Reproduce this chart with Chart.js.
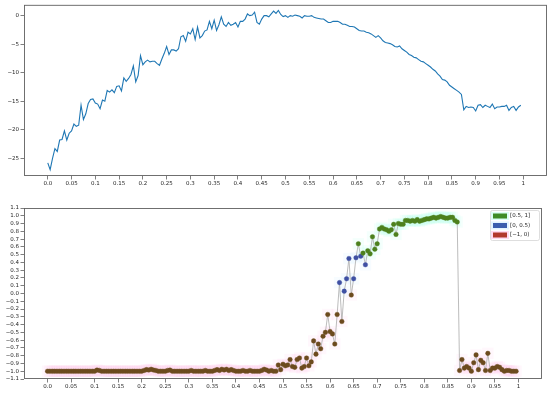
<!DOCTYPE html>
<html>
<head>
<meta charset="utf-8">
<script src="https://cdn.jsdelivr.net/npm/chart.js@4.4.1/dist/chart.umd.min.js"></script>
<style>
  html, body { margin: 0; padding: 0; background: #fff; }
  #wrap { position: relative; width: 550px; height: 395px; }
  #top { position: absolute; left: 0; top: 0; }
  #bottom { position: absolute; left: 0; top: 200px; }
</style>
</head>
<body>
<div id="wrap">
  <canvas id="top" width="550" height="197"></canvas>
  <canvas id="bottom" width="550" height="195"></canvas>
</div>
<script>
/* Sample grid: 200 samples, 0.005 apart, starting at 0. */
const SAMPLE_COUNT = 200;
const SAMPLE_STEP = 0.005;

const xTickValues = [0, 0.05, 0.1, 0.15, 0.2, 0.25, 0.3, 0.35, 0.4, 0.45, 0.5,
  0.55, 0.6, 0.65, 0.7, 0.75, 0.8, 0.85, 0.9, 0.95, 1];
const xTickLabels = ['0.0', '0.05', '0.1', '0.15', '0.2', '0.25', '0.3', '0.35', '0.4',
  '0.45', '0.5', '0.55', '0.6', '0.65', '0.7', '0.75', '0.8', '0.85', '0.9', '0.95', '1'];

const topTickValues = [-25, -20, -15, -10, -5, 0];
const topTickLabels = ['\u221225', '\u221220', '\u221215', '\u221210', '\u22125', '0'];

const bottomTickValues = [1.1, 1.0, 0.9, 0.8, 0.7, 0.6, 0.5, 0.4, 0.3, 0.2, 0.1, 0,
  -0.1, -0.2, -0.3, -0.4, -0.5, -0.6, -0.7, -0.8, -0.9, -1.0, -1.1];
const bottomTickLabels = ['1.1', '1.0', '0.9', '0.8', '0.7', '0.6', '0.5', '0.4', '0.3',
  '0.2', '0.1', '0.0', '\u22120.1', '\u22120.2', '\u22120.3', '\u22120.4', '\u22120.5',
  '\u22120.6', '\u22120.7', '\u22120.8', '\u22120.9', '\u22121.0', '\u22121.1'];

/* Upper panel: the raw signal. */
const topValues = [
  -25.8, -27, -25, -23.3, -23.8, -21.8, -21.7, -20.2, -21.8, -20.6,
  -20.2, -19, -19.4, -19.2, -15.7, -18.2, -17.2, -15.4, -14.7, -14.6,
  -15.3, -15.5, -16.3, -14.8, -15, -13.1, -13.4, -13, -13.5, -12.4,
  -12.3, -13.2, -10.9, -11.5, -11, -10.3, -8.8, -11.6, -10.5, -7,
  -8.6, -8.1, -7.8, -8.1, -8, -8, -8.4, -8.7, -7.6, -6.6,
  -5.4, -6.8, -6, -6, -6.2, -5.8, -3.7, -3.5, -4.5, -2.9,
  -3.2, -2.3, -4.2, -2, -3.9, -3.5, -2.7, -2.5, -1, -2.3,
  -0.8, -2.6, -1.6, -0.2, -1.5, -1.9, -1.2, -1.7, -1.5, -1.2,
  -2, -1, -1, -0.6, 0.3, 0, 0.1, 0.6, -1.2, -1.5,
  -0.6, 0, 0, -0.2, 0.3, 0.8, 0.4, 0.9, 0.2, -0.17,
  0, -0.3, 0, -0.1, 0.1, 0, -0.1, -0.4, 0, -0.1,
  -0.1, 0, -0.3, -0.4, -0.5, -0.6, -0.6, -0.9, -1.2, -1.2,
  -1.0, -1.0, -1.0, -1.2, -1.5, -1.5, -1.7, -1.9, -1.9, -2.0,
  -2.3, -2.6, -2.7, -2.7, -2.9, -3.0, -3.2, -3.5, -3.8, -3.5,
  -3.9, -4.4, -4.7, -4.8, -4.9, -5.1, -5.4, -5.5, -5.3, -5.8,
  -6.1, -6.4, -6.8, -7.0, -7.3, -7.4, -7.7, -8.0, -8.1, -8.4,
  -8.7, -9.0, -9.4, -9.7, -10.2, -10.6, -11.2, -11.3, -11.6, -12.2,
  -12.5, -12.8, -13.1, -13.4, -13.8, -16.5, -15.9, -16.1, -16.0, -16.1,
  -16.7, -15.7, -15.6, -16.1, -15.7, -15.9, -16.1, -15.5, -16.3, -16.0,
  -16.0, -15.9, -15.9, -15.7, -16.6, -16.1, -15.9, -16.6, -16.0, -15.7,
];

/* Lower panel: the normalised signal, coloured by range. */
const bottomValues = [
  -1, -1, -1, -1, -1, -1, -1, -1, -1, -1,
  -1, -1, -1, -1, -1, -1, -1, -1, -1, -1,
  -1, -0.985, -0.99, -1, -1, -1, -1, -1, -1, -1,
  -1, -1, -1, -1, -1, -1, -1, -1, -1, -1,
  -1, -0.99, -0.98, -0.985, -0.975, -0.985, -0.99, -1, -1, -1,
  -1, -0.99, -0.985, -1, -1, -1, -1, -1, -1, -1,
  -1, -0.99, -1, -1, -1, -1, -1, -0.99, -1, -1,
  -1, -0.99, -0.98, -0.99, -0.975, -0.985, -0.975, -0.99, -0.98, -0.99,
  -1, -1, -1, -0.99, -1, -1, -0.99, -1, -1, -1,
  -1, -0.99, -0.975, -0.985, -1, -0.99, -1, -1, -0.92, -0.98,
  -0.91, -0.93, -0.92, -0.85, -0.94, -0.95, -0.85, -0.83, -0.96, -0.94,
  -0.83, -0.93, -0.88, -0.61, -0.78, -0.65, -0.71, -0.55, -0.5, -0.27,
  -0.49, -0.52, -0.65, -0.27, 0.14, -0.36, 0.03, 0.19, 0.45, -0.02,
  0.19, 0.46, 0.64, 0.48, 0.52, 0.37, 0.55, 0.51, 0.73, 0.57,
  0.64, 0.83, 0.85, 0.83, 0.82, 0.80, 0.82, 0.89, 0.76, 0.9,
  0.89, 0.89, 0.94, 0.94, 0.93, 0.94, 0.93, 0.95, 0.93, 0.94,
  0.95, 0.96, 0.96, 0.97, 0.98, 0.97, 0.98, 0.99, 0.98, 0.97,
  0.97, 0.98, 0.98, 0.94, 0.92, -0.99, -0.85, -0.96, -0.94, -0.96,
  -1.0, -0.89, -0.79, -0.98, -0.86, -0.89, -0.99, -0.77, -0.99, -0.96,
  -0.96, -0.94, -0.95, -0.98, -1.0, -0.99, -0.99, -1.0, -1.0, -1.0,
];

const legendLabels = ['[0.5, 1]', '[0, 0.5)', '[\u22121, 0)'];
const legendColors = ['#3f8c27', '#3c5eae', '#b23a2c'];
const markerColors = ['#4d801d', '#3f50a3', '#6c4b1e'];
const glowColors = ['rgba(110, 255, 220, 0.08)', 'rgba(140, 210, 255, 0.07)', 'rgba(255, 110, 200, 0.055)'];

const xValues = Array.from({ length: SAMPLE_COUNT }, (_, i) => i * SAMPLE_STEP);

const FONT = { family: '"DejaVu Sans", sans-serif', size: 5.5 };
const INK = '#262626';
const SPINE = '#606060';

function bucketOf(v) {
  if (v >= 0.5) return 0;
  if (v >= 0) return 1;
  return 2;
}

/* Matplotlib-style frame on all four sides. */
const framePlugin = {
  id: 'frame',
  afterDatasetsDraw(chart) {
    const { ctx, chartArea: a } = chart;
    ctx.save();
    ctx.strokeStyle = SPINE;
    ctx.lineWidth = 0.9;
    ctx.strokeRect(a.left + 0.5, a.top + 0.5, a.right - a.left - 1, a.bottom - a.top - 1);
    ctx.restore();
  },
};

const boxLegendPlugin = {
  id: 'boxLegend',
  afterDraw(chart) {
    if (!chart.options.plugins.boxLegend) return;
    const { ctx, chartArea: a } = chart;
    const x = a.right - 52;
    const y = a.top + 2;
    const w = 49;
    const h = 30;
    ctx.save();
    ctx.fillStyle = 'rgba(255,255,255,0.85)';
    ctx.strokeStyle = '#d6d6d6';
    ctx.lineWidth = 0.8;
    ctx.beginPath();
    ctx.roundRect(x + 0.5, y + 0.5, w, h, 2);
    ctx.fill();
    ctx.stroke();
    ctx.font = `${FONT.size}px ${FONT.family}`;
    ctx.textBaseline = 'middle';
    legendLabels.forEach((label, k) => {
      const ry = y + 6 + k * 9.5;
      ctx.fillStyle = glowColors[k].replace(/[\d.]+\)$/, '0.25)');
      ctx.fillRect(x + 1, ry - 4, 18, 8);
      ctx.fillStyle = legendColors[k];
      ctx.fillRect(x + 3, ry - 2.5, 14, 5);
      ctx.fillStyle = INK;
      ctx.fillText(label, x + 20, ry);
    });
    ctx.restore();
  },
};

function xScale(height) {
  return {
    type: 'linear',
    min: -0.05,
    max: 1.05,
    afterBuildTicks: (axis) => { axis.ticks = xTickValues.map((value) => ({ value })); },
    afterFit: (scale) => { scale.height = height; },
    border: { display: false },
    grid: { drawOnChartArea: false, tickLength: 3.5, tickColor: SPINE, tickWidth: 0.8 },
    ticks: {
      autoSkip: false,
      maxRotation: 0,
      padding: 1,
      color: INK,
      font: FONT,
      callback: (value, index) => xTickLabels[index],
    },
  };
}

function yScale(min, max, values, labels) {
  return {
    type: 'linear',
    min,
    max,
    afterBuildTicks: (axis) => { axis.ticks = values.map((value) => ({ value })); },
    afterFit: (scale) => { scale.width = 24; },
    border: { display: false },
    grid: { drawOnChartArea: false, tickLength: 3.5, tickColor: SPINE, tickWidth: 0.8 },
    ticks: {
      autoSkip: false,
      padding: 1.5,
      color: INK,
      font: FONT,
      callback: (value, index) => labels[index],
    },
  };
}

const baseOptions = {
  responsive: false,
  animation: false,
  events: [],
  plugins: { legend: { display: false }, tooltip: { enabled: false } },
};

new Chart(document.getElementById('top'), {
  type: 'scatter',
  data: {
    datasets: [{
      data: topValues.map((y, i) => ({ x: xValues[i], y })),
      showLine: true,
      borderColor: '#1f77b4',
      borderWidth: 1.1,
      pointRadius: 0,
      tension: 0,
    }],
  },
  options: {
    ...baseOptions,
    layout: { padding: { top: 4, right: 3, left: 0, bottom: 0 } },
    scales: {
      x: xScale(21),
      y: yScale(-28.1, 1.9, topTickValues, topTickLabels),
    },
  },
  plugins: [framePlugin],
});

const points = bottomValues.map((y, i) => ({ x: xValues[i], y, b: bucketOf(y) }));
const glowSets = [0, 1, 2].map((k) => ({
  data: points.filter((p) => p.b === k),
  showLine: false,
  pointStyle: 'rect',
  pointRadius: 8,
  pointBorderWidth: 0,
  pointBackgroundColor: glowColors[k],
  order: 10,
}));
const markerSets = [0, 1, 2].map((k) => ({
  data: points.filter((p) => p.b === k),
  showLine: false,
  pointRadius: 2.3,
  pointBorderWidth: 0.4,
  pointBackgroundColor: markerColors[k],
  pointBorderColor: markerColors[k],
  order: 1,
}));

new Chart(document.getElementById('bottom'), {
  type: 'scatter',
  data: {
    datasets: [
      ...glowSets,
      {
        data: points,
        showLine: true,
        borderColor: '#b4b4b4',
        borderWidth: 0.9,
        pointRadius: 0,
        order: 5,
      },
      ...markerSets,
    ],
  },
  options: {
    ...baseOptions,
    plugins: { ...baseOptions.plugins, boxLegend: true },
    layout: { padding: { top: 7, right: 3, left: 0, bottom: 0 } },
    scales: {
      x: xScale(16),
      y: yScale(-1.1, 1.1, bottomTickValues, bottomTickLabels),
    },
  },
  plugins: [framePlugin, boxLegendPlugin],
});
</script>
</body>
</html>
